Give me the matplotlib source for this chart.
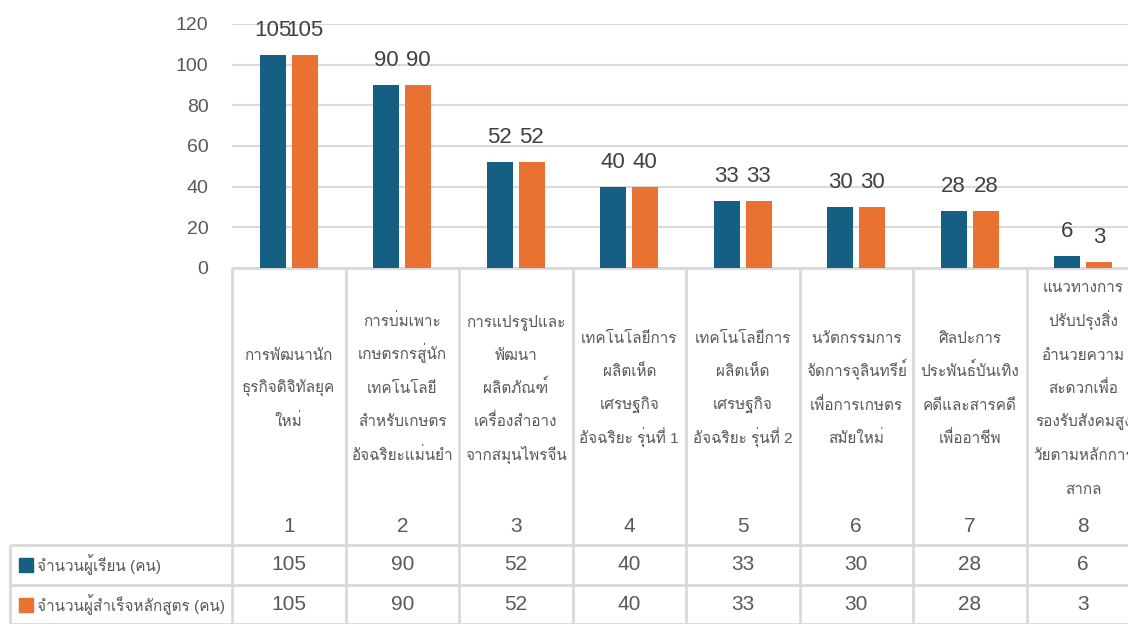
import numpy as np
import matplotlib
matplotlib.use("Agg")
import matplotlib.pyplot as plt
from matplotlib import font_manager
from matplotlib.ft2font import FT2Font

# data
categories = ["1", "2", "3", "4", "5", "6", "7", "8"]
course_names = [
    "การพัฒนานัก\nธุรกิจดิจิทัลยุค\nใหม่",
    "การบ่มเพาะ\nเกษตรกรสู่นัก\nเทคโนโลยี\nสำหรับเกษตร\nอัจฉริยะแม่นยำ",
    "การแปรรูปและ\nพัฒนา\nผลิตภัณฑ์\nเครื่องสำอาง\nจากสมุนไพรจีน",
    "เทคโนโลยีการ\nผลิตเห็ด\nเศรษฐกิจ\nอัจฉริยะ รุ่นที่ 1",
    "เทคโนโลยีการ\nผลิตเห็ด\nเศรษฐกิจ\nอัจฉริยะ รุ่นที่ 2",
    "นวัตกรรมการ\nจัดการจุลินทรีย์\nเพื่อการเกษตร\nสมัยใหม่",
    "ศิลปะการ\nประพันธ์บันเทิง\nคดีและสารคดี\nเพื่ออาชีพ",
    "แนวทางการ\nปรับปรุงสิ่ง\nอำนวยความ\nสะดวกเพื่อ\nรองรับสังคมสูง\nวัยตามหลักการ\nสากล",
]
enrolled = [105, 90, 52, 40, 33, 30, 28, 6]
graduated = [105, 90, 52, 40, 33, 30, 28, 3]
series_names = ["จำนวนผู้เรียน (คน)", "จำนวนผู้สำเร็จหลักสูตร (คน)"]
colors = ["#156082", "#E97132"]

# pick an installed looped Thai font, fall back to any with Thai glyphs
thai_fonts = set()
for f in font_manager.fontManager.ttflist:
    try:
        if 0x0E01 in FT2Font(f.fname).get_charmap():
            thai_fonts.add(f.name)
    except Exception:
        pass
thai = None
for name in ["Loma", "Garuda", "Waree", "IBM Plex Sans Thai Looped"]:
    if name in thai_fonts:
        thai = name
        break
if thai is None and thai_fonts:
    thai = sorted(thai_fonts)[0]
plt.rcParams["font.family"] = ["Liberation Sans"] + ([thai] if thai else []) + ["DejaVu Sans"]

W, H = 1128, 624
fig = plt.figure(figsize=(W / 100, H / 100), dpi=100)
txt = "#595959"
grid = "#D9D9D9"

# plot area in pixels (extends past the right edge like the reference)
x0, x1, ytop, ybot = 232, 1140, 24, 268
ax = fig.add_axes([x0 / W, 1 - ybot / H, (x1 - x0) / W, (ybot - ytop) / H])
x = np.arange(len(categories))
bw, off = 0.23, 0.141
for vals, c, sgn in [(enrolled, colors[0], -1), (graduated, colors[1], 1)]:
    bars = ax.bar(x + sgn * off, vals, bw, color=c, zorder=3)
    for b, v in zip(bars, vals):
        ax.annotate(str(v), (b.get_x() + b.get_width() / 2, v), xytext=(0, 10),
                    textcoords="offset points", ha="center", va="bottom",
                    fontsize=16, color="#404040")
ax.set_xlim(-0.5, len(categories) - 0.5)
ax.set_ylim(0, 120)
ax.set_yticks(range(0, 121, 20))
ax.yaxis.grid(True, color=grid, lw=1.5, zorder=0)
ax.set_xticks([])
ax.tick_params(axis="y", length=0, pad=17, labelsize=14, labelcolor=txt)
for s in ax.spines.values():
    s.set_visible(False)

# data table under the chart, drawn in pixel coords
tb = fig.add_axes([0, 0, 1, 1], zorder=-1)
tb.set_xlim(0, W)
tb.set_ylim(H, 0)
tb.axis("off")
colw = (x1 - x0) / len(categories)
edges = [x0 + i * colw for i in range(len(categories) + 1)]
row1, row2, row3 = 545, 585, 625
lk = dict(color=grid, lw=2, solid_capstyle="butt")
tb.plot([x0, x1], [ybot, ybot], **lk)
for e in edges:
    tb.plot([e, e], [ybot, row3], **lk)
tb.plot([10, 10], [row1, row3], **lk)
for yy in [row1, row2, row3 - 1]:
    tb.plot([10, x1], [yy, yy], **lk)

# wrapped course names: one text per line so the spacing stays even
line_gap = 33.5
for i, (name, cat) in enumerate(zip(course_names, categories)):
    cx = x0 + (i + 0.5) * colw
    lines = name.split("\n")
    for k, ln in enumerate(lines):
        yy = 388 + (k - (len(lines) - 1) / 2) * line_gap
        tb.text(cx, yy + 5, ln, ha="center", va="baseline", fontsize=11, color=txt)
    tb.text(cx, 527, cat, ha="center", va="center", fontsize=15, color=txt)
    tb.text(cx, (row1 + row2) / 2, str(enrolled[i]), ha="center", va="center",
            fontsize=15, color=txt)
    tb.text(cx, (row2 + row3) / 2, str(graduated[i]), ha="center", va="center",
            fontsize=15, color=txt)

for name, c, yy in [(series_names[0], colors[0], (row1 + row2) / 2),
                    (series_names[1], colors[1], (row2 + row3) / 2)]:
    tb.add_patch(plt.Rectangle((19, yy - 7), 14, 14, color=c))
    tb.text(37, yy, name, ha="left", va="center", fontsize=11, color=txt)

fig.savefig("out.png", dpi=100)
